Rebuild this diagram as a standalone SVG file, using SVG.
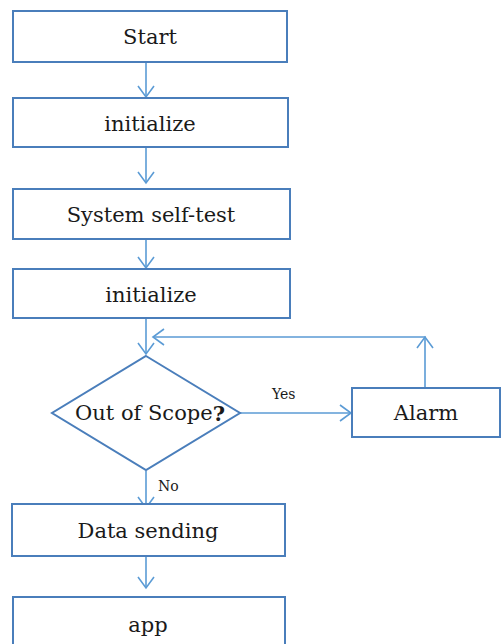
<svg xmlns="http://www.w3.org/2000/svg" width="501" height="644" viewBox="0 0 501 644">
<style>
.box{fill:#fff;stroke:#4a7ebb;stroke-width:2}
.t{font-family:"DejaVu Serif","Liberation Serif",serif;font-size:21px;fill:#1a1a1a;text-anchor:middle;dominant-baseline:central}
.s{font-family:"DejaVu Serif","Liberation Serif",serif;font-size:14px;fill:#1a1a1a}
.c{fill:none;stroke:#5b9bd5;stroke-width:1.6}
.h{fill:none;stroke:#5b9bd5;stroke-width:1.6}
</style>
<rect width="501" height="644" fill="#fff"/>
<g id="connectors">
<line class="c" x1="146" y1="63" x2="146" y2="97"/><polyline class="h" points="138,86 146,97 154,86"/>
<line class="c" x1="146" y1="148" x2="146" y2="183"/><polyline class="h" points="138,172 146,183 154,172"/>
<line class="c" x1="146" y1="240" x2="146" y2="268"/><polyline class="h" points="138,257 146,268 154,257"/>
<line class="c" x1="146" y1="319" x2="146" y2="354"/><polyline class="h" points="138,343 146,354 154,343"/>
<line class="c" x1="240" y1="413" x2="351" y2="413"/><polyline class="h" points="340,405 351,413 340,421"/>
<polyline class="c" points="425,387 425,337 153,337"/><polyline class="h" points="417,348 425,337 433,348"/><polyline class="h" points="164,329 153,337 164,345"/>
<line class="c" x1="146" y1="471" x2="146" y2="508"/><polyline class="h" points="138,497 146,508 154,497"/>
<line class="c" x1="146" y1="557" x2="146" y2="588"/><polyline class="h" points="138,577 146,588 154,577"/>
<text class="s" x="272" y="399">Yes</text>
<text class="s" x="158" y="491">No</text>
</g>
<g id="start"><rect class="box" x="13" y="11" width="274" height="51"/><text class="t" x="150" y="37">Start</text></g>
<g id="init1"><rect class="box" x="13" y="98" width="275" height="49"/><text class="t" x="150" y="124">initialize</text></g>
<g id="selftest"><rect class="box" x="13" y="189" width="277" height="50"/><text class="t" x="151" y="215">System self-test</text></g>
<g id="init2"><rect class="box" x="13" y="269" width="277" height="49"/><text class="t" x="151" y="295">initialize</text></g>
<g id="decision"><polygon class="box" points="146,356 240,413 146,470 52,413"/><text class="t" x="150" y="413">Out of Scope<tspan font-weight="bold">?</tspan></text></g>
<g id="alarm"><rect class="box" x="352" y="388" width="148" height="49"/><text class="t" x="426" y="413">Alarm</text></g>
<g id="datasending"><rect class="box" x="12" y="504" width="273" height="52"/><text class="t" x="148" y="531">Data sending</text></g>
<g id="app"><rect class="box" x="13" y="597" width="272" height="60"/><text class="t" x="148" y="625">app</text></g>
</svg>
